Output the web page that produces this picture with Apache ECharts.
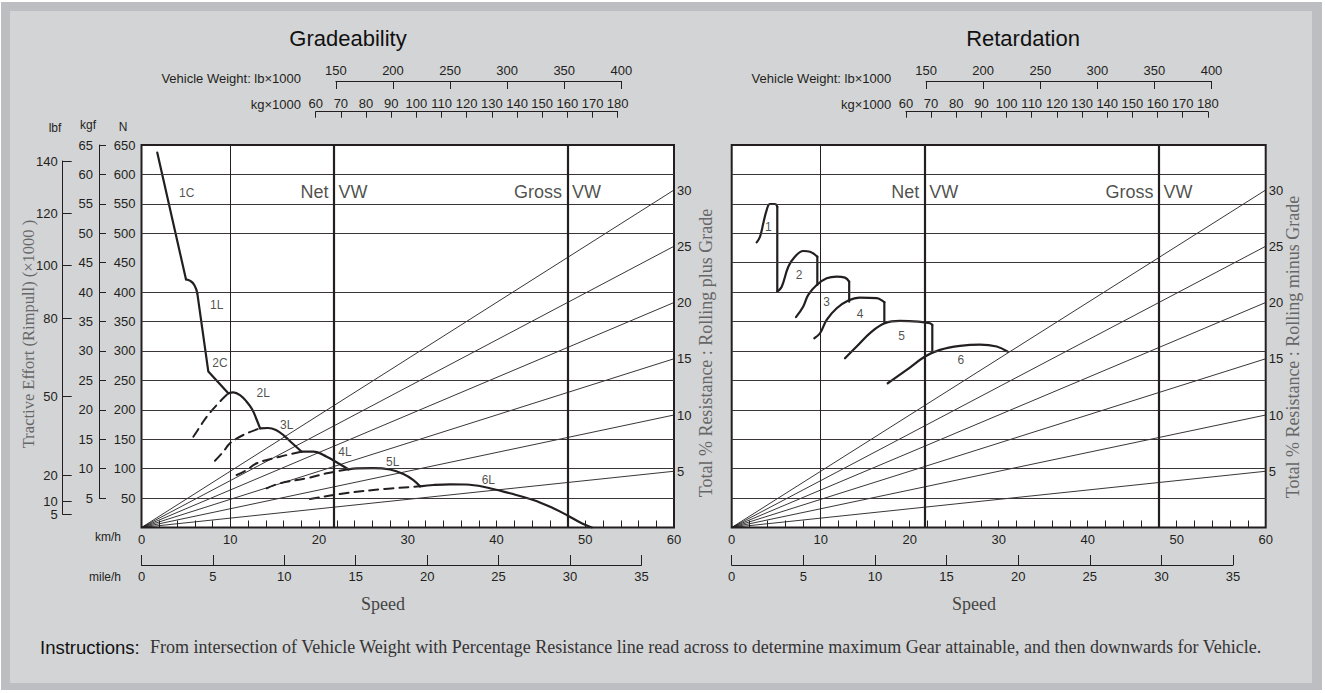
<!DOCTYPE html>
<html><head><meta charset="utf-8">
<script src="https://cdn.jsdelivr.net/npm/echarts@6/dist/echarts.min.js"></script>
<style>
html,body{margin:0;padding:0;background:#fff;}
#outer{position:absolute;left:1px;top:2px;width:1321px;height:688px;background:#bdbec2;}
#inner{position:absolute;left:10px;top:11px;width:1302px;height:672px;background:#d3d4d6;}
#chart{position:absolute;left:0;top:0;width:1325px;height:693px;}
</style></head><body>
<div id="outer"></div><div id="inner"></div><div id="chart"></div>
<script>
// ---------------- DATA ----------------
const speedMax = 60;            // km/h
const speedStep = 2;            // minor tick step km/h
const mileMax = 35;             // mile/h
const mileStep = 5;
const lbMin = 150, lbMax = 400, lbStep = 50;      // Vehicle weight lb x1000
const kgMin = 60, kgMax = 180, kgStep = 10;       // Vehicle weight kg x1000
const nMax = 650, nStep = 50;                      // N x1000
const kgfMin = 5, kgfMax = 65, kgfStep = 5;        // kgf x1000
const lbfMin = 5, lbfMax = 140;
const lbfTicks = [5, 10, 20, 50, 80, 100, 120, 140];
const resistMax = 34;
const grades = [5, 10, 15, 20, 25, 30];           // % resistance lines
const gradeGridN = [50, 100, 150, 200, 250, 300, 350, 400, 500, 550, 600];
const retGridN = [50, 100, 150, 200, 250, 300, 350, 400, 450, 500, 550, 600];
const speedRefs = [10, 21.7, 48];                 // 10 km/h, Net VW, Gross VW
const vwLabels = [['Net', 21.7], ['Gross', 48]];
const vwLabelN = 570;

// Gradeability curves [km/h, N x1000]
const g1C = [[1.78, 637], [5.01, 421.8]];
const g1Knee = [[5.01, 421.8], [5.5, 419], [5.95, 412], [6.29, 398]];
const g1L2C = [[6.29, 398], [7.53, 265], [9.78, 228]];
const g2L = [[9.78, 228], [10.34, 229.7], [11.1, 225.1], [11.85, 213.8], [12.45, 201.4], [12.9, 186.1], [13.36, 168.6]];
const g3L = [[13.36, 168.6], [14.25, 169.1], [15.15, 165.7], [16.05, 156.3], [16.96, 143.6], [18.05, 128.8]];
const g4L = [[18.05, 128.8], [19.36, 128.8], [20.87, 120.3], [22.17, 109.1], [23.3, 98.9]];
const g5L = [[23.3, 98.9], [24.3, 100.6], [26.1, 101], [28.0, 98.5], [29.5, 91], [30.6, 81], [31.38, 70]];
const g6L = [[31.38, 70], [32.88, 72.2], [34.76, 73.4], [36.56, 73.1], [38.51, 69.3], [41.52, 58.1], [44.15, 46.7], [46.4, 32.6], [47.91, 21.2], [49.6, 7.1], [50.73, 0]];
const g2Ld = [[5.84, 154.3], [6.59, 171.3], [7.35, 188.3], [8.65, 211], [9.78, 228]];
const g3Ld = [[8.28, 113.5], [9.22, 128.8], [9.97, 143.1], [11.47, 157.2], [13.36, 168.6]];
const g4Ld = [[10.73, 89.2], [11.85, 97.7], [12.98, 109.1], [15.6, 120.3], [18.05, 128.8]];
const g5Ld = [[14.1, 66.6], [15.6, 75.1], [18.6, 83.6], [20.87, 92.1], [23.3, 98.9]];
const g6Ld = [[18.99, 48.4], [22.37, 56.9], [26.12, 63.7], [31.38, 70]];
const gradeLabels = [['1C', 5.09, 567.9], ['1L', 8.47, 378.1], ['2C', 8.85, 279], ['2L', 13.72, 228],
  ['3L', 16.36, 174.2], ['4L', 22.93, 128.8], ['5L', 28.3, 111.8], ['6L', 39.08, 80.7]];

// Retardation curves [km/h, N x1000]
const r1 = [[2.81, 484.6], [3.18, 494.1], [3.55, 516.9], [3.93, 539.5], [4.3, 549.7], [4.87, 549.7], [5.12, 545.1]];
const r2 = [[5.12, 400.7], [5.62, 409.2], [6.36, 443.2], [7.1, 460.2], [8.04, 469.9], [8.8, 468.7], [9.62, 460.2]];
const r3 = [[7.22, 357.4], [8.04, 375.5], [8.6, 395.4], [9.55, 412.1], [10.67, 423.4], [11.8, 426.3], [12.73, 424.6], [13.2, 417.8]];
const r4 = [[9.28, 321.6], [9.92, 330.1], [10.67, 352.8], [11.8, 372.6], [13.1, 385.7], [14.4, 390.8], [16.3, 389.7], [17.15, 382.9]];
const r5 = [[12.73, 287.6], [14.04, 307.5], [15.73, 332.9], [17.2, 347.1], [18.9, 351.1], [20.97, 349.9], [22.28, 347.1], [22.54, 344.3]];
const r6 = [[17.53, 245.1], [19.66, 267.8], [21.72, 290.5], [23.4, 301.9], [25.65, 308.7], [27.9, 310.9], [29.78, 307.5], [30.97, 299.0]];
const retDrops = [[5.12, 545.1, 400.7], [9.62, 460.2, 412.1], [13.2, 417.8, 383.8], [17.15, 382.9, 348.3], [22.54, 344.3, 299.0]];
const retLabels = [['1', 4.11, 510.1], ['2', 7.56, 429.1], ['3', 10.67, 382.7], ['4', 14.42, 362.8], ['5', 19.1, 325.9], ['6', 25.76, 284.6]];

// ---------------- LAYOUT / STYLE ----------------
const INK = '#231f20', GRIDC = '#3b3636';
const SANS = "'Liberation Sans',Arial,sans-serif";
const SERIF = "'Liberation Serif','DejaVu Serif',serif";
const L = {left: 141.5, top: 145, w: 532.5, h: 382.5};
const R = {left: 731.7, top: 145, w: 534, h: 382.5};
const kmToMile = 1.609344;
const refWidths = [1, 2.2, 2.2];

const chart = echarts.init(document.getElementById('chart'), null, {renderer: 'svg', width: 1325, height: 693});

const lblStyle = (size) => ({color: INK, fontFamily: SANS, fontSize: size || 13});
const hidX = (gi) => ({gridIndex: gi, type: 'value', show: false, min: 0, max: 1});
const hidY = (gi, mn, mx) => ({gridIndex: gi, type: 'value', show: false, min: mn || 0, max: mx || 1});

const grids = [
  {left: L.left, top: L.top, width: L.w, height: L.h, show: true, backgroundColor: '#fff', borderColor: INK, borderWidth: 2},
  {left: R.left, top: R.top, width: R.w, height: R.h, show: true, backgroundColor: '#fff', borderColor: INK, borderWidth: 2},
  {left: L.left, top: 545, width: mileMax * kmToMile * L.w / speedMax, height: 20},
  {left: R.left, top: 545, width: mileMax * kmToMile * R.w / speedMax, height: 20},
  {left: 335.9, top: 81, width: 285.4, height: 20},
  {left: 315.7, top: 111.7, width: 302, height: 20},
  {left: 335.9 + (R.left - L.left), top: 81, width: 285.4, height: 20},
  {left: 315.7 + (R.left - L.left), top: 111.7, width: 302, height: 20},
  {left: 99, top: 145, width: 10, height: 353.1},
  {left: 62.7, top: 161, width: 10, height: 353.4}
];

const speedAxis = (gi) => ({gridIndex: gi, type: 'value', min: 0, max: speedMax, interval: speedStep,
  axisLine: {show: false, onZero: false}, splitLine: {show: false},
  axisTick: {show: true, inside: true, length: 7, lineStyle: {color: INK, width: 1}},
  axisLabel: {formatter: v => (v % 10 === 0 ? String(v) : ''), margin: 5, ...lblStyle(13)}});
const mileAxis = (gi) => ({gridIndex: gi, type: 'value', min: 0, max: mileMax, interval: mileStep, position: 'bottom',
  axisLine: {show: true, onZero: false, lineStyle: {color: INK, width: 1}}, splitLine: {show: false},
  axisTick: {show: true, inside: true, length: 10, lineStyle: {color: INK}},
  axisLabel: {margin: 5, ...lblStyle(13)}});
const topAxis = (gi, mn, mx, st, tl, mg) => ({gridIndex: gi, type: 'value', min: mn, max: mx, interval: st, position: 'top',
  axisLine: {show: true, onZero: false, lineStyle: {color: INK, width: 1}}, splitLine: {show: false},
  axisTick: {show: true, inside: true, length: tl, lineStyle: {color: INK}},
  axisLabel: {margin: mg, ...lblStyle(13)}});
const resistAxis = (gi) => ({gridIndex: gi, type: 'value', position: 'right', min: 0, max: resistMax, interval: 5,
  axisLine: {show: false, onZero: false}, axisTick: {show: false}, splitLine: {show: false},
  axisLabel: {formatter: v => (v > 0 && v <= 30 && v % 5 === 0 ? String(v) : ''), margin: 3, ...lblStyle(13)}});

const xAxes = [speedAxis(0), speedAxis(1), mileAxis(2), mileAxis(3),
  topAxis(4, lbMin, lbMax, lbStep, 8, 4), topAxis(5, kgMin, kgMax, kgStep, 6, 2),
  topAxis(6, lbMin, lbMax, lbStep, 8, 4), topAxis(7, kgMin, kgMax, kgStep, 6, 2),
  hidX(8), hidX(9)];

const yAxes = [
  {gridIndex: 0, type: 'value', min: 0, max: nMax, interval: nStep, axisLine: {show: false, onZero: false}, axisTick: {show: false}, splitLine: {show: false},
    axisLabel: {formatter: v => (v === 0 ? '' : String(v)), margin: 6, ...lblStyle(13)}},
  resistAxis(0),
  hidY(1, 0, nMax),
  resistAxis(1),
  hidY(2), hidY(3), hidY(4), hidY(5), hidY(6), hidY(7),
  {gridIndex: 8, type: 'value', min: kgfMin, max: kgfMax, interval: kgfStep, position: 'left',
    axisLine: {show: true, onZero: false, lineStyle: {color: INK, width: 1}}, splitLine: {show: false},
    axisTick: {show: true, inside: true, length: 7, lineStyle: {color: INK}},
    axisLabel: {margin: 6, ...lblStyle(13)}},
  {gridIndex: 9, type: 'value', min: lbfMin, max: lbfMax, position: 'left',
    axisLine: {show: true, onZero: false, lineStyle: {color: INK, width: 1}}, splitLine: {show: false},
    axisTick: {show: true, inside: true, length: 9, customValues: lbfTicks, lineStyle: {color: INK}},
    axisLabel: {margin: 5, customValues: lbfTicks, ...lblStyle(13)}}
];

const series = [];
function frameLines(xi, yi, gridN) {
  series.push({type: 'line', xAxisIndex: xi, yAxisIndex: yi, data: [[0, 0]], symbol: 'none', silent: true, z: 1,
    lineStyle: {width: 0},
    markLine: {symbol: ['none', 'none'], silent: true, label: {show: false}, animation: false,
      data: gridN.map(v => ({yAxis: v, lineStyle: {color: GRIDC, width: 1, type: 'solid'}}))
        .concat(speedRefs.map((v, i) => ({xAxis: v, lineStyle: {color: INK, width: refWidths[i], type: 'solid'}})))}});
}
function gradeLines(xi, yi) {
  grades.forEach(p => series.push({type: 'line', xAxisIndex: xi, yAxisIndex: yi, data: [[0, 0], [speedMax, p]],
    symbol: 'none', silent: true, z: 2, lineStyle: {color: INK, width: 0.9}}));
}
function curve(xi, yi, data, smooth, dashed) {
  series.push({type: 'line', xAxisIndex: xi, yAxisIndex: yi, data: data, symbol: 'none', smooth: smooth, silent: true, z: 4,
    lineStyle: {color: INK, width: dashed ? 2 : 2.2, type: dashed ? [9, 6] : 'solid', cap: 'round', join: 'round'}});
}
function labels(xi, yi, arr, size) {
  series.push({type: 'scatter', xAxisIndex: xi, yAxisIndex: yi, symbol: 'circle', symbolSize: 1, silent: true, z: 5,
    itemStyle: {color: 'rgba(0,0,0,0)'},
    data: arr.map(d => ({value: [d[1], d[2]], name: d[0]})),
    label: {show: true, position: 'inside', formatter: '{b}', ...lblStyle(size)}});
}
function vw(xi, yi) {
  series.push({type: 'scatter', xAxisIndex: xi, yAxisIndex: yi, symbol: 'circle', symbolSize: 1, silent: true, z: 5,
    itemStyle: {color: 'rgba(0,0,0,0)'},
    data: vwLabels.map(d => ({value: [d[1], vwLabelN], name: d[0]})),
    label: {show: true, position: 'left', distance: 5, formatter: '{b}', color: INK, fontFamily: SANS, fontSize: 18}});
  series.push({type: 'scatter', xAxisIndex: xi, yAxisIndex: yi, symbol: 'circle', symbolSize: 1, silent: true, z: 5,
    itemStyle: {color: 'rgba(0,0,0,0)'},
    data: vwLabels.map(d => ({value: [d[1], vwLabelN], name: 'VW'})),
    label: {show: true, position: 'right', distance: 4, formatter: '{b}', color: INK, fontFamily: SANS, fontSize: 18}});
}

// Gradeability
frameLines(0, 0, gradeGridN);
gradeLines(0, 1);
curve(0, 0, g1C, false); curve(0, 0, g1Knee, 0.5); curve(0, 0, g1L2C, false);
[g2L, g3L, g4L, g5L, g6L].forEach(d => curve(0, 0, d, 0.4));
[g2Ld, g3Ld, g4Ld, g5Ld, g6Ld].forEach(d => curve(0, 0, d, 0.4, true));
labels(0, 0, gradeLabels, 12);
vw(0, 0);

// Retardation
frameLines(1, 2, retGridN);
gradeLines(1, 3);
[r1, r2, r3, r4, r5, r6].forEach(d => curve(1, 2, d, 0.4));
retDrops.forEach(d => curve(1, 2, [[d[0], d[1]], [d[0], d[2]]], false));
labels(1, 2, retLabels, 12);
vw(1, 2);

// texts
const T = (text, x, y, font, fill, align, rot) => ({type: 'text', x: x, y: y, rotation: rot || 0, z: 100, silent: true,
  style: {text: text, font: font, fill: fill || INK, textAlign: align || 'center', textVerticalAlign: 'middle'}});
const dx = R.left - L.left;
const graphics = [
  T('Gradeability', 348, 38, "22px " + SANS, '#111'),
  T('Retardation', 1023, 38, "22px " + SANS, '#111'),
  T('Vehicle Weight: lb×1000', 301, 78, "13px " + SANS, INK, 'right'),
  T('kg×1000', 301, 104, "13px " + SANS, INK, 'right'),
  T('Vehicle Weight: lb×1000', 301 + dx, 78, "13px " + SANS, INK, 'right'),
  T('kg×1000', 301 + dx, 104, "13px " + SANS, INK, 'right'),
  T('lbf', 55, 128, "12px " + SANS),
  T('kgf', 88, 125, "12px " + SANS),
  T('N', 123, 127, "12px " + SANS),
  T('km/h', 108, 537, "12px " + SANS),
  T('mile/h', 105, 577, "12px " + SANS),
  T('Tractive Effort (Rimpull) (×1000 )', 28, 334, "16.5px " + SERIF, '#666', 'center', Math.PI / 2),
  T('Total % Resistance : Rolling plus Grade', 706, 353, "18px " + SERIF, '#666', 'center', Math.PI / 2),
  T('Total % Resistance : Rolling minus Grade', 1293, 347, "18px " + SERIF, '#666', 'center', Math.PI / 2),
  T('Speed', 383, 604, "18px " + SERIF, '#444'),
  T('Speed', 974, 604, "18px " + SERIF, '#444'),
  T('Instructions:', 40, 647, "18.5px " + SANS, '#111', 'left'),
  T('From intersection of Vehicle Weight with Percentage Resistance line read across to determine maximum Gear attainable, and then downwards for Vehicle.', 150, 647, "18px " + SERIF, '#333', 'left')
];

chart.setOption({
  animation: false,
  grid: grids,
  xAxis: xAxes,
  yAxis: yAxes,
  series: series,
  graphic: graphics
});
</script>
</body></html>
